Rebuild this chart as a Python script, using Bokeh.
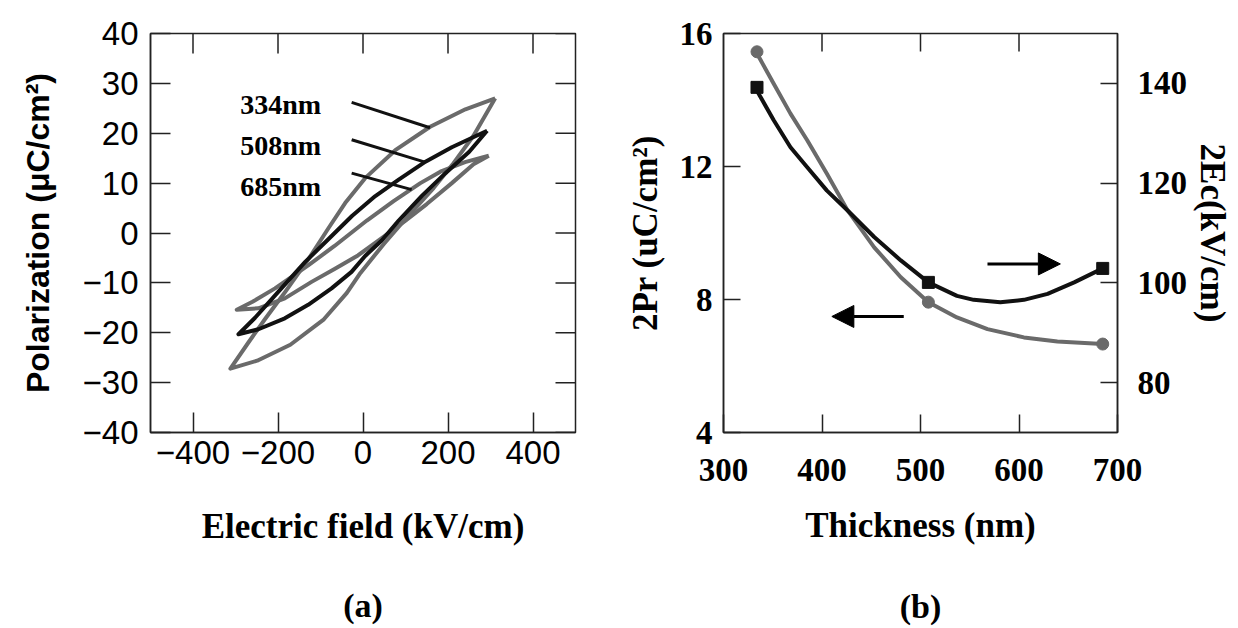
import math
from bokeh.plotting import figure
from bokeh.layouts import row
from bokeh.models import Range1d, LinearAxis, Label, Arrow, NormalHead, FixedTicker
from bokeh.embed import file_html
from bokeh.resources import INLINE

# ---------------- (a) hysteresis loops ----------------
e_ticks = [-400, -200, 0, 200, 400]
p_ticks = [-40, -30, -20, -10, 0, 10, 20, 30, 40]

# 334 nm loop (gray): upper (descending) and lower (ascending) branches
up_E334 = [311, 241, 158, 76, 5, -42, -81, -128, -183, -230, -270, -312]
up_P334 = [27.0, 24.8, 21.3, 16.6, 11.0, 6.0, 1.0, -5.2, -11.8, -17.2, -22.0, -27.2]
lo_E334 = [-312, -249, -171, -92, -38, -6, 49, 104, 166, 213, 260, 311]
lo_P334 = [-27.2, -25.6, -22.4, -17.3, -12.0, -8.0, -2.2, 3.2, 9.0, 14.0, 19.5, 27.0]

# 508 nm loop (black)
up_E508 = [292, 209, 147, 84, 29, -26, -81, -136, -191, -254, -293]
up_P508 = [20.5, 17.2, 14.3, 10.7, 7.4, 3.4, -1.2, -5.8, -11.0, -17.0, -20.3]
lo_E508 = [-293, -246, -184, -129, -74, -27, 5, 44, 84, 139, 194, 250, 292]
lo_P508 = [-20.3, -19.3, -17.1, -14.4, -11.1, -7.8, -4.6, -1.5, 2.5, 7.5, 12.0, 16.3, 20.5]

# 685 nm loop (gray)
up_E685 = [296, 240, 182, 135, 72, 9, -67, -129, -207, -260, -297]
up_P685 = [15.5, 14.2, 12.3, 10.0, 6.4, 2.5, -2.6, -6.5, -11.1, -13.8, -15.4]
lo_E685 = [-297, -246, -184, -121, -67, -12, 45, 100, 150, 209, 260, 296]
lo_P685 = [-15.4, -15.1, -13.1, -9.8, -7.2, -4.5, -1.0, 2.5, 5.8, 10.0, 13.8, 15.5]

loop_names = ["334nm", "508nm", "685nm"]
label_E = [-289, -289, -289]
label_P = [25.8, 17.6, 9.3]
leader_E0 = [-26.7, -26.7, -26.7]
leader_P0 = [26.2, 18.7, 12.0]
leader_E1 = [157.6, 145.9, 114.5]
leader_P1 = [21.1, 14.2, 8.7]

# ---------------- (b) thickness dependence ----------------
thickness = [334, 508, 685]
pr2 = [15.45, 7.92, 6.66]
ec2 = [139.2, 100.1, 102.9]
t_ticks = [300, 400, 500, 600, 700]
pr_ticks = [4, 8, 12, 16]
ec_ticks = [80, 100, 120, 140]

# smooth curves
pr_curve_t = [333, 351, 368, 385, 405, 426, 453, 480, 508, 537, 568, 605, 639, 685]
pr_curve_v = [15.45, 14.49, 13.59, 12.79, 11.78, 10.68, 9.57, 8.67, 7.92, 7.46, 7.11, 6.86, 6.74, 6.66]
ec_curve_t = [332, 351, 368, 385, 405, 426, 453, 480, 508, 537, 554, 581, 605, 629, 656, 685]
ec_curve_v = [139.2, 132.6, 127.2, 123.2, 118.5, 114.5, 109.2, 104.5, 100.1, 97.4, 96.6, 96.1, 96.6, 97.8, 100.1, 102.9]

SANS = "Liberation Sans"
SERIF = "Liberation Serif"
GRAY = "#6a6a6a"
BLACK = "#111111"
EDGE = "#222222"


def style_axis(ax, ticks, tick_len, font, size, fstyle, standoff):
    ax.ticker = FixedTicker(ticks=ticks)
    ax.major_tick_in = tick_len
    ax.major_tick_out = 0
    ax.minor_tick_in = 0
    ax.minor_tick_out = 0
    ax.major_tick_line_width = 1.5
    ax.major_tick_line_color = EDGE
    ax.axis_line_width = 1.5
    ax.axis_line_color = EDGE
    ax.major_label_text_font = font
    ax.major_label_text_font_size = size
    ax.major_label_text_font_style = fstyle
    ax.major_label_text_color = "black"
    ax.major_label_standoff = standoff


def style_label(ax, text, font, size, standoff):
    ax.axis_label = text
    ax.axis_label_text_font = font
    ax.axis_label_text_font_style = "bold"
    ax.axis_label_text_font_size = size
    ax.axis_label_standoff = standoff
    ax.axis_label_text_color = "black"


def panel_tag(text, standoff):
    # a tick-less axis below the x axis that only carries the panel tag
    ax = LinearAxis(ticker=FixedTicker(ticks=[]))
    ax.axis_line_color = None
    ax.major_tick_line_color = None
    ax.minor_tick_line_color = None
    ax.major_tick_in = 0
    ax.major_tick_out = 0
    ax.minor_tick_in = 0
    ax.minor_tick_out = 0
    ax.major_label_standoff = 0
    style_label(ax, text, SERIF, "34px", standoff)
    return ax


def minus(t):
    return str(t) if t >= 0 else "\u2212" + str(-t)


# ---------------- figure (a) ----------------
p1 = figure(width=620, height=628, x_range=Range1d(-500, 500), y_range=Range1d(-40, 40),
            output_backend="svg", toolbar_location=None,
            min_border_left=150, min_border_right=45, min_border_top=29, min_border_bottom=193)
p1.grid.visible = False
p1.outline_line_color = EDGE
p1.outline_line_width = 1.5
p1.background_fill_color = "white"
p1.border_fill_color = "white"

style_axis(p1.xaxis[0], e_ticks, 20, SANS, "33px", "normal", 8)
style_axis(p1.yaxis[0], p_ticks, 20, SANS, "33px", "normal", 12)
p1.xaxis[0].major_label_overrides = {t: minus(t) for t in e_ticks}
p1.yaxis[0].major_label_overrides = {t: minus(t) for t in p_ticks}
style_label(p1.xaxis[0], "Electric field (kV/cm)", SERIF, "35px", 40)
style_label(p1.yaxis[0], "Polarization (\u03bcC/cm\u00b2)", SANS, "32px", 24)
p1.add_layout(panel_tag("(a)", 38), "below")

# mirrored inward ticks on top and right edges (half of each dash is clipped by the frame)
p1.scatter(x=e_ticks, y=[p1.y_range.end] * len(e_ticks), marker="dash", angle=math.pi / 2,
           size=40, line_color=EDGE, line_width=1.5)
p1.scatter(x=[p1.x_range.end] * len(p_ticks), y=p_ticks, marker="dash",
           size=40, line_color=EDGE, line_width=1.5)

p1.line(up_E685 + lo_E685, up_P685 + lo_P685, line_color=GRAY, line_width=4, line_join="round")
p1.line(up_E334 + lo_E334, up_P334 + lo_P334, line_color=GRAY, line_width=4, line_join="round")
p1.line(up_E508 + lo_E508, up_P508 + lo_P508, line_color=BLACK, line_width=4, line_join="round")

p1.segment(x0=leader_E0, y0=leader_P0, x1=leader_E1, y1=leader_P1, line_color=BLACK, line_width=3)
for name, ex, py in zip(loop_names, label_E, label_P):
    p1.add_layout(Label(x=ex, y=py, text=name, text_font=SERIF, text_font_style="bold",
                        text_font_size="28px", text_align="left", text_baseline="alphabetic",
                        text_color="black"))

# ---------------- figure (b) ----------------
p2 = figure(width=618, height=628, x_range=Range1d(300, 700), y_range=Range1d(4, 16),
            output_backend="svg", toolbar_location=None,
            min_border_left=103, min_border_right=121, min_border_top=33, min_border_bottom=196)
p2.grid.visible = False
p2.outline_line_color = EDGE
p2.outline_line_width = 1.5
p2.background_fill_color = "white"
p2.border_fill_color = "white"
p2.extra_y_ranges = {"ec": Range1d(70, 150)}

style_axis(p2.xaxis[0], t_ticks, 18, SERIF, "33px", "bold", 26)
style_axis(p2.yaxis[0], pr_ticks, 17, SERIF, "33px", "bold", 11)
style_label(p2.xaxis[0], "Thickness (nm)", SERIF, "35px", 22)
style_label(p2.yaxis[0], "2Pr (uC/cm\u00b2)", SERIF, "35px", 12)
p2.add_layout(panel_tag("(b)", 40), "below")

ax_r = LinearAxis(y_range_name="ec")
style_axis(ax_r, ec_ticks, 17, SERIF, "33px", "bold", 20)
style_label(ax_r, "2Ec(kV/cm)", SERIF, "35px", 3)
p2.add_layout(ax_r, "right")

top_ticks_b = [400, 500, 600]
p2.scatter(x=top_ticks_b, y=[p2.y_range.end] * len(top_ticks_b), marker="dash", angle=math.pi / 2,
           size=36, line_color=EDGE, line_width=1.5)

p2.line(pr_curve_t, pr_curve_v, line_color=GRAY, line_width=4, line_join="round")
p2.scatter(thickness, pr2, marker="circle", size=12, fill_color=GRAY, line_color=GRAY)
p2.line(ec_curve_t, ec_curve_v, line_color=BLACK, line_width=4, line_join="round", y_range_name="ec")
p2.scatter(thickness, ec2, marker="square", size=12, fill_color=BLACK, line_color=BLACK, y_range_name="ec")

p2.add_layout(Arrow(end=NormalHead(size=22, fill_color="black", line_color="black"),
                    x_start=568, y_start=9.07, x_end=642, y_end=9.07,
                    line_width=3, line_color="black"))
p2.add_layout(Arrow(end=NormalHead(size=22, fill_color="black", line_color="black"),
                    x_start=483, y_start=7.49, x_end=410, y_end=7.49,
                    line_width=3, line_color="black"))

layout = row(p1, p2)
open("out.html", "w").write(file_html(layout, INLINE))
